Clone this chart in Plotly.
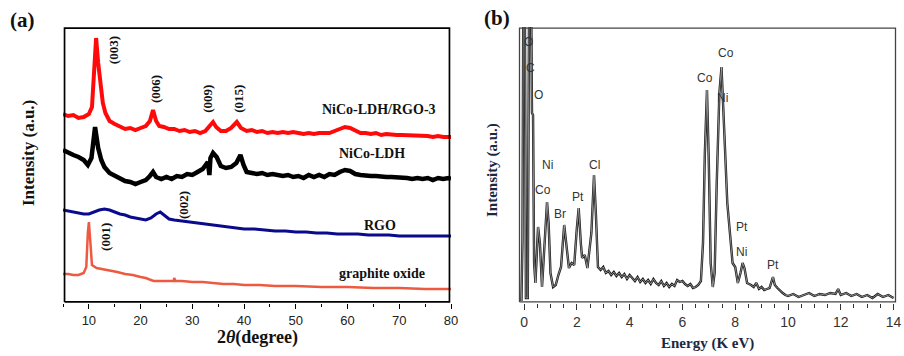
import plotly.graph_objects as go

W, H = 904, 356

# ---------------- Panel (a): XRD ----------------
theta_ldh_rgo = [5, 6, 7, 8, 9, 10, 10.6, 11.0, 11.4, 11.8, 12.2, 12.7, 13.2, 14, 15, 16, 17, 18, 19, 20, 21, 21.8, 22.4, 23.0, 23.6,
                 24.5, 25.5, 26.5, 27.5, 28.5, 29.5, 30.5, 31.5, 32.5, 33.5, 34.0, 34.6, 35.5, 36.5, 37.5, 38.6, 39.4, 40.5,
                 41.5, 42.5, 43.5, 44.5, 45.5, 46.5, 47.5, 48.5, 49.5, 50.5, 51.5, 52.5, 53.5, 54.5, 55.5, 56.5, 57.5, 58.5,
                 59.5, 60.5, 61.5, 62.5, 63.5, 64.5, 65.5, 66.5, 67.5, 68.5, 69.5, 70.5, 71.5, 72.5, 73.5, 74.5, 75.5, 76.5,
                 77.5, 78.5, 79.5, 80]
int_ldh_rgo = [189, 187, 188, 185, 186, 189, 196, 225, 265, 240, 218, 200, 190, 182, 179, 176, 174, 175, 173, 175, 177, 182, 193, 182, 177,
               176, 174, 174, 172, 173, 171, 172, 170, 172, 179, 181, 176, 172, 172, 175, 181, 175, 172,
               173, 171, 172, 170, 171, 170, 171, 170, 171, 170, 169, 170, 169, 170, 170, 170, 172, 174,
               176, 175, 172, 170, 170, 169, 170, 168, 169, 168, 168, 168, 168, 167, 168, 167, 167, 166,
               167, 166, 166, 166]

theta_ldh = [5, 6, 7, 8, 9, 9.8, 10.5, 11.2, 11.8, 12.4, 13, 14, 15, 16, 17, 18, 19, 20, 21, 21.8, 22.4, 23.0, 24, 25, 26, 27, 28,
             29, 30, 31, 32, 33, 33.3, 33.5, 34, 34.7, 35.5, 36.5, 37.5, 38.5, 39.3, 39.9, 40.5, 41.5, 42.5, 43.5, 44.5, 45.5,
             46.5, 47.5, 48.5, 49.5, 50.5, 51.5, 52.5, 53.5, 54.5, 55.5, 56.5, 57.5, 58.5, 59.5, 60.5, 61.5, 62.5, 63.5,
             64.5, 65.5, 66.5, 67.5, 68.5, 69.5, 70.5, 71.5, 72.5, 73.5, 74.5, 75.5, 76.5, 77.5, 78.5, 79.5, 80]
int_ldh = [153, 150, 148, 146, 143, 138, 145, 176, 155, 143, 136, 130, 127, 124, 122, 121, 119, 121, 123, 127, 131, 126, 124, 126, 124, 127, 126,
           129, 128, 131, 134, 141, 128, 145, 150, 146, 137, 135, 136, 140, 148, 138, 131, 130, 129, 130, 128, 129,
           128, 127, 128, 126, 127, 125, 128, 126, 128, 126, 129, 128, 131, 133, 132, 129, 128, 127,
           127, 127, 126, 126, 126, 126, 125, 125, 124, 125, 124, 125, 123, 125, 124, 125, 124]

theta_rgo = [5, 6, 7, 8, 9, 10, 11, 12, 13, 14, 15, 16, 17, 18, 19, 20, 21, 22, 23, 23.8, 24.5, 25.5, 26.5, 28, 30, 32, 34, 36,
             38, 40, 42, 44, 46, 48, 50, 52, 54, 56, 58, 60, 62, 64, 66, 68, 70, 72, 74, 76, 78, 80]
int_rgo = [93, 92, 91, 90, 89, 89, 91, 93, 94, 93, 91, 89, 88, 86, 85, 84, 83, 85, 89, 91, 88, 84, 83, 82, 81, 80, 78, 77,
           76, 74, 74, 73, 72, 72, 71, 71, 70, 70, 69, 69, 69, 68, 68, 68, 67, 67, 67, 67, 67, 67]

theta_go = [5, 6, 7, 8, 9, 9.5, 9.8, 10.0, 10.3, 10.6, 11.5, 12.7, 14, 15.5, 17, 18.5, 20, 21, 22.5, 24, 25.5, 26.4, 26.5, 26.7,
            28, 30, 32, 34, 36, 38, 40, 43, 46, 50, 55, 60, 65, 70, 75, 80]
int_go = [29, 29, 28, 28, 30, 36, 70, 81, 60, 38, 35, 34, 33, 31, 29, 28, 26, 25, 22, 22, 22, 22, 25, 22,
          22, 21, 21, 20, 19, 19, 18, 18, 17, 17, 16, 16, 15, 15, 14, 14]

series_names = ["NiCo-LDH/RGO-3", "NiCo-LDH", "RGO", "graphite oxide"]
series_colors = ["#ff0a0a", "#000000", "#0a0a8c", "#ee5a40"]
series_widths = [4, 4.5, 3, 2.5]
label_theta = [66.0, 64.7, 66.3, 66.7]
label_int = [194, 150, 78, 30]

peak_labels = ["(003)", "(006)", "(009)", "(015)", "(002)", "(001)"]
peak_theta = [14.7, 22.8, 32.8, 38.8, 28.2, 13.1]
peak_int = [253, 214, 204, 204, 98, 66]

xrd_range = [5, 80]
xrd_ticks = [10, 20, 30, 40, 50, 60, 70, 80]

# ---------------- Panel (b): EDS ----------------
energy = [-0.1, -0.06, -0.03, 0.03, 0.07, 0.14, 0.19, 0.27, 0.30, 0.34, 0.38, 0.43, 0.53, 0.6, 0.68, 0.78, 0.87, 0.93, 1.0,
          1.1, 1.2, 1.3, 1.4, 1.52, 1.6, 1.7, 1.8, 1.9, 2.0, 2.07, 2.15, 2.2, 2.3, 2.4, 2.55, 2.65, 2.72, 2.8,
          2.9, 3.0, 3.1, 3.2, 3.3, 3.4, 3.5, 3.6, 3.7, 3.8, 3.9, 4.0, 4.1, 4.2, 4.3, 4.4, 4.5, 4.6, 4.7, 4.8, 4.9,
          5.0, 5.1, 5.2, 5.3, 5.4, 5.5, 5.6, 5.7, 5.8, 5.9, 6.0, 6.1, 6.2, 6.3, 6.4, 6.5, 6.6, 6.7,
          6.78, 6.85, 6.93, 7.0, 7.07, 7.15, 7.22, 7.3, 7.4, 7.48, 7.55, 7.62, 7.7, 7.8, 7.9, 8.0, 8.1, 8.2, 8.28,
          8.35, 8.45, 8.6, 8.7, 8.8, 8.9, 9.0, 9.1, 9.2, 9.3, 9.43, 9.5, 9.6, 9.7, 9.8, 9.9, 10.0, 10.2, 10.4,
          10.6, 10.8, 11.0, 11.2, 11.4, 11.6, 11.8, 11.9, 12.0, 12.2, 12.4, 12.6, 12.8, 13.0, 13.2, 13.4, 13.6,
          13.8, 14.0]
counts = [2, 63, 300, 300, 5, 5, 300, 300, 190, 188, 40, 20, 76, 60, 16, 60, 101, 80, 30,
          16, 18, 28, 36, 78, 60, 35, 40, 38, 75, 95, 60, 45, 48, 35, 70, 128, 90, 36,
          33, 36, 30, 32, 28, 31, 27, 30, 26, 29, 24, 28, 25, 22, 26, 21, 24, 20, 23, 19, 24,
          20, 18, 22, 17, 20, 16, 19, 17, 23, 21, 22, 19, 17, 19, 15, 16, 18, 22,
          60, 150, 213, 140, 40, 16, 30, 120, 210, 236, 200, 150, 100, 70, 40, 36, 20, 30, 40,
          35, 20, 18, 16, 20, 14, 16, 13, 14, 15, 26, 18, 15, 12, 10, 8, 7, 9, 6,
          8, 10, 7, 9, 8, 10, 9, 14, 8, 10, 7, 9, 6, 8, 5, 9, 6,
          8, 5]

eds_labels = ["O", "C", "O", "Ni", "Co", "Br", "Pt", "Cl", "Co", "Co", "Ni", "Pt", "Ni", "Pt"]
eds_label_e = [0.15, 0.25, 0.55, 0.87, 0.72, 1.36, 2.05, 2.65, 6.85, 7.65, 7.5, 8.25, 8.25, 9.43]
eds_label_i = [261, 235, 208, 138, 113, 89, 106, 138, 225, 250, 205, 76, 51, 38]

eds_range = [-0.23, 14.13]
eds_ticks = [0, 2, 4, 6, 8, 10, 12, 14]

y_range = [0, 276]   # 1 unit = 1 px in both panels

# ---------------- Figure ----------------
def px(x):
    return x / W

def py(y):
    return 1 - y / H

A_L, A_R, B_L, B_R, TOP, BOT = 63, 451, 518, 897, 27, 303

fig = go.Figure()

xrd_series = [(theta_ldh_rgo, int_ldh_rgo), (theta_ldh, int_ldh), (theta_rgo, int_rgo), (theta_go, int_go)]
for (xs, ys), name, col, wd in zip(xrd_series, series_names, series_colors, series_widths):
    fig.add_trace(go.Scatter(x=xs, y=ys, mode="lines", name=name,
                             line=dict(color=col, width=wd), xaxis="x", yaxis="y",
                             showlegend=False))

fig.add_trace(go.Scatter(x=energy, y=counts, mode="lines", line=dict(color="#1a1a1a", width=2.4),
                         xaxis="x2", yaxis="y2", showlegend=False))
fig.add_trace(go.Scatter(x=energy, y=counts, mode="lines", line=dict(color="#b8b8b8", width=0.7),
                         xaxis="x2", yaxis="y2", showlegend=False))

# plot frames, drawn on unit overlay axes so that they sit just inside each plot area
unit_box_x = [0, 1, 1, 0, 0]
unit_box_y = [0, 0, 1, 1, 0]
fig.add_trace(go.Scatter(x=unit_box_x, y=unit_box_y, mode="lines", line=dict(color="black", width=1.7),
                         xaxis="x3", yaxis="y3", showlegend=False, hoverinfo="skip"))
fig.add_trace(go.Scatter(x=unit_box_x, y=unit_box_y, mode="lines", line=dict(color="#444", width=1.3),
                         xaxis="x4", yaxis="y4", showlegend=False, hoverinfo="skip"))

TIMES = "Liberation Serif, Times New Roman, serif"
ARIAL = "Liberation Sans, Arial, sans-serif"

C = dict(xanchor="center", yanchor="middle", showarrow=False)

ann = []
for t, xv, yv in zip(series_names, label_theta, label_int):
    ann.append(dict(x=xv, y=yv, xref="x", yref="y", text="<b>%s</b>" % t,
                    font=dict(family=TIMES, size=14, color="#111"), **C))
for t, xv, yv in zip(peak_labels, peak_theta, peak_int):
    ann.append(dict(x=xv, y=yv, xref="x", yref="y", text="<b>%s</b>" % t, textangle=-90,
                    font=dict(family=TIMES, size=13, color="#111"), **C))
for t, xv, yv in zip(eds_labels, eds_label_e, eds_label_i):
    ann.append(dict(x=xv, y=yv, xref="x2", yref="y2", text=t,
                    font=dict(family=ARIAL, size=12, color="#333"), **C))

ann += [
    dict(x=px(22), y=py(20), xref="paper", yref="paper", text="<b>(a)</b>",
         font=dict(family=TIMES, size=21, color="#111"), **C),
    dict(x=px(497), y=py(18), xref="paper", yref="paper", text="<b>(b)</b>",
         font=dict(family=TIMES, size=21, color="#111"), **C),
    dict(x=px(257), y=py(337), xref="paper", yref="paper", text="<b>2<i>θ</i>(degree)</b>",
         font=dict(family=TIMES, size=18, color="#111"), **C),
    dict(x=px(28), y=py(153), xref="paper", yref="paper", text="<b>Intensity (a.u.)</b>",
         textangle=-90, font=dict(family=TIMES, size=17, color="#111"), **C),
    dict(x=px(707), y=py(343), xref="paper", yref="paper", text="<b>Energy (K eV)</b>",
         font=dict(family=TIMES, size=15, color="#1c2740"), **C),
    dict(x=px(493), y=py(170), xref="paper", yref="paper", text="<b>Intensity (a.u.)</b>",
         textangle=-90, font=dict(family=TIMES, size=15, color="#1c2740"), **C),
]

hidden = dict(visible=False, showgrid=False, zeroline=False, automargin=False)
unit_range = [-0.004, 1.004]

fig.update_layout(
    template="none",
    width=W, height=H, autosize=False, margin=dict(l=0, r=0, t=0, b=0, pad=0),
    paper_bgcolor="white", plot_bgcolor="white",
    annotations=ann,
    xaxis=dict(domain=[px(A_L), px(A_R)], range=xrd_range, tickvals=xrd_ticks, ticks="outside", ticklen=5,
               tickwidth=1.3, tickcolor="black", showline=False, showgrid=False, zeroline=False,
               automargin=False,
               minor=dict(dtick=5, tick0=0, ticks="outside", ticklen=3, tickcolor="black", showgrid=False),
               tickfont=dict(family=ARIAL, size=13, color="#222"), anchor="y"),
    yaxis=dict(domain=[py(BOT), py(TOP)], range=y_range, showticklabels=False, ticks="", showline=False,
               showgrid=False, zeroline=False, automargin=False, anchor="x"),
    xaxis2=dict(domain=[px(B_L), px(B_R)], range=eds_range, tickvals=eds_ticks, ticks="outside", ticklen=6,
                tickwidth=1, tickcolor="#333", showline=False, showgrid=False, zeroline=False,
                automargin=False,
                minor=dict(dtick=0.5, tick0=0, ticks="outside", ticklen=4, tickcolor="#333", showgrid=False),
                tickfont=dict(family=ARIAL, size=14, color="#333"), anchor="y2"),
    yaxis2=dict(domain=[py(BOT), py(TOP)], range=y_range, showticklabels=False, ticks="", showline=False,
                showgrid=False, zeroline=False, automargin=False, anchor="x2"),
    xaxis3=dict(domain=[px(A_L), px(A_R)], range=unit_range, anchor="y3", overlaying="x", **hidden),
    yaxis3=dict(domain=[py(BOT), py(TOP)], range=unit_range, anchor="x3", overlaying="y", **hidden),
    xaxis4=dict(domain=[px(B_L), px(B_R)], range=unit_range, anchor="y4", overlaying="x2", **hidden),
    yaxis4=dict(domain=[py(BOT), py(TOP)], range=unit_range, anchor="x4", overlaying="y2", **hidden),
)

fig.write_html("out.html", config={"responsive": False, "displayModeBar": False},
               post_script="document.body.style.margin='0';document.body.style.overflow='hidden';")
